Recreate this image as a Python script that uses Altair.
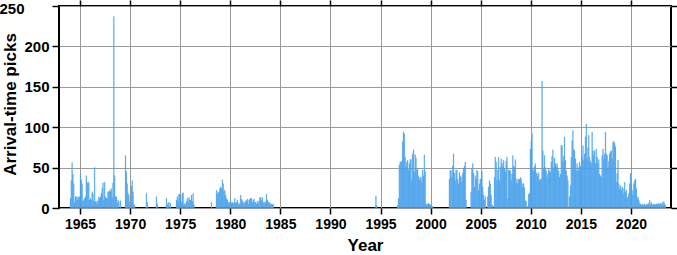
import altair as alt
import pandas as pd

# Monthly arrival-time pick counts
# Jan 1964 .. Dec 1976
counts_1964_1976 = [
    12, 34, 56, 42, 30, 7, 14, 14, 10, 14, 12, 14,      # 1964
    42, 35, 30, 10, 8, 12, 14, 40, 32, 30, 32, 10,      # 1965
    12, 10, 20, 18, 8, 50, 8, 6, 9, 8, 14, 12,          # 1966
    14, 18, 24, 31, 10, 32, 14, 12, 12, 20, 20, 22,     # 1967
    20, 24, 13, 31, 237, 40, 14, 14, 6, 10, 8, 0,       # 1968
    9, 0, 0, 0, 0, 0, 65, 45, 30, 18, 16, 8,            # 1969
    0, 27, 34, 20, 5, 3, 0, 0, 0, 0, 0, 0,              # 1970
    0, 0, 0, 0, 0, 0, 0, 18, 7, 0, 0, 0,                # 1971
    0, 0, 0, 0, 0, 0, 0, 14, 5, 0, 0, 0,                # 1972
    0, 0, 0, 0, 0, 0, 0, 12, 4, 6, 7, 0,                # 1973
    6, 0, 0, 0, 0, 0, 0, 10, 14, 8, 17, 17,             # 1974
    16, 7, 18, 19, 4, 6, 4, 8, 12, 7, 13, 10,           # 1975
    10, 16, 8, 18, 4, 0, 0, 0, 0, 0, 0, 0,              # 1976
]
# Jan 1978 .. Apr 1984
counts_1978_1984 = [
    0, 7, 0, 0, 0, 0, 0, 22, 17, 20, 19, 24,            # 1978
    26, 24, 35, 30, 20, 22, 16, 12, 10, 7, 7, 6,        # 1979
    9, 6, 7, 5, 7, 12, 6, 7, 10, 5, 6, 4,               # 1980
    16, 11, 9, 6, 7, 6, 9, 9, 11, 5, 10, 11,            # 1981
    12, 12, 7, 10, 11, 7, 7, 5, 8, 6, 9, 13,            # 1982
    13, 9, 13, 7, 6, 7, 8, 17, 10, 7, 7, 6,             # 1983
    5, 5, 4, 5,                                         # 1984
]
# Jul 1994 .. Aug 1994
counts_1994 = [15, 3]
# Sep 1996 .. Mar 2000
counts_1996_2000 = [
    3, 12, 53, 57,                                      # 1996
    57, 58, 82, 94, 92, 63, 51, 57, 59, 47, 55, 60,     # 1997
    60, 34, 67, 72, 45, 66, 62, 47, 49, 40, 35, 38,     # 1998
    38, 32, 47, 40, 66, 45, 5, 5, 4, 6, 5, 4,           # 1999
    3, 2, 2,                                            # 2000
]
# Nov 2001 .. Jun 2023
counts_2001_2023 = [
    36, 47,                                             # 2001
    46, 38, 52, 67, 43, 34, 47, 47, 36, 30, 44, 40,     # 2002
    38, 32, 43, 49, 52, 57, 10, 0, 0, 0, 0, 0,          # 2003
    20, 49, 55, 43, 26, 40, 36, 47, 45, 22, 30, 36,     # 2004
    36, 45, 26, 16, 10, 14, 0, 0, 14, 26, 34, 30,       # 2005
    16, 4, 3, 0, 38, 63, 57, 34, 47, 63, 34, 50,        # 2006
    61, 55, 51, 59, 49, 45, 58, 63, 11, 47, 47, 46,     # 2007
    34, 42, 65, 52, 50, 60, 32, 36, 30, 36, 35, 38,     # 2008
    36, 26, 30, 30, 25, 9, 8, 1, 2, 17, 18, 73,         # 2009
    83, 92, 48, 46, 52, 55, 44, 42, 39, 44, 34, 36,     # 2010
    36, 157, 71, 48, 65, 50, 46, 38, 42, 48, 46, 44,    # 2011
    57, 64, 72, 50, 62, 55, 52, 55, 48, 46, 38, 42,     # 2012
    78, 77, 57, 64, 88, 59, 46, 40, 34, 1, 14, 28,      # 2013
    63, 83, 96, 73, 71, 61, 46, 55, 50, 46, 57, 52,     # 2014
    46, 63, 77, 59, 67, 88, 104, 61, 75, 90, 63, 58,    # 2015
    55, 94, 71, 65, 71, 55, 73, 63, 55, 60, 42, 40,     # 2016
    38, 65, 73, 61, 67, 94, 67, 65, 50, 58, 67, 70,     # 2017
    71, 61, 81, 83, 80, 76, 32, 43, 59, 30, 24, 28,     # 2018
    22, 26, 24, 18, 32, 20, 22, 12, 14, 18, 30, 43,     # 2019
    30, 22, 16, 30, 34, 36, 24, 12, 14, 10, 6, 5,       # 2020
    3, 5, 4, 4, 5, 3, 4, 5, 5, 6, 10, 4,                # 2021
    7, 3, 5, 4, 5, 4, 5, 5, 6, 5, 5, 6,                 # 2022
    4, 7, 5, 8, 5, 3,                                   # 2023
]

segments = [
    (1964, 1, counts_1964_1976),
    (1978, 1, counts_1978_1984),
    (1994, 7, counts_1994),
    (1996, 9, counts_1996_2000),
    (2001, 11, counts_2001_2023),
]

year_ticks = [1965, 1970, 1975, 1980, 1985, 1990, 1995, 2000, 2005, 2010, 2015, 2020]
count_ticks = [0, 50, 100, 150, 200, 250]

rows = []
for y0, m0, vals in segments:
    for i, v in enumerate(vals):
        k = (m0 - 1) + i
        t0 = y0 + k / 12.0
        if v > 0:
            rows.append({"t0": t0, "t1": t0 + 1 / 12.0, "n": v})
df = pd.DataFrame(rows)

FONT = "Liberation Sans"
BAR = "#4aa2ec"
xscale = alt.Scale(domain=[1962.9, 2024.0], nice=False, zero=False)
yscale = alt.Scale(domain=[0, 250], nice=False)

bars = alt.Chart(df).mark_rect(color=BAR, stroke=BAR, strokeWidth=0.25).encode(
    x=alt.X("t0:Q", scale=xscale,
            axis=alt.Axis(orient="bottom", values=year_ticks, format="d",
                          title="Year", grid=True, gridColor="#9a9a9a", gridWidth=1,
                          domain=False, tickColor="black", tickSize=6, tickWidth=1.5,
                          labelFont=FONT, labelFontSize=14, labelFontWeight="bold",
                          labelColor="black", labelPadding=3,
                          titleFont=FONT, titleFontSize=17, titleFontWeight="bold",
                          titleColor="black", titleX=306, titleY=37,
                          titleBaseline="middle")),
    x2="t1:Q",
    y=alt.Y("n:Q", scale=yscale,
            axis=alt.Axis(orient="left", values=count_ticks,
                          title="Arrival-time picks", grid=True, gridColor="#9a9a9a",
                          gridWidth=1, domain=False, tickColor="black", tickSize=7,
                          tickWidth=1.5, labelFont=FONT, labelFontSize=15,
                          labelFontWeight="bold", labelColor="black",
                          labelPadding=alt.condition("datum.value == 250",
                                                     alt.value(28), alt.value(3)),
                          labelOffset=alt.condition("datum.value == 250",
                                                    alt.value(2), alt.value(0)),
                          titleFont=FONT, titleFontSize=17, titleFontWeight="bold",
                          titleColor="black", titleX=-49, titleY=98,
                          titleBaseline="middle", titleAlign="center", titleAngle=270)),
    y2=alt.datum(0),
)

frame_ticks = alt.Chart(df).mark_rect(opacity=0).encode(
    x=alt.X("t0:Q", scale=xscale,
            axis=alt.Axis(orient="top", values=year_ticks, labels=False, title="",
                          grid=False, domain=False, tickColor="black", tickSize=6,
                          tickWidth=1.5)),
    x2="t1:Q",
    y=alt.Y("n:Q", scale=yscale,
            axis=alt.Axis(orient="right", values=count_ticks, labels=False, title="",
                          grid=False, domain=False, tickColor="black", tickSize=6,
                          tickWidth=1.5)),
    y2=alt.datum(0),
)

chart = alt.layer(bars, frame_ticks).resolve_axis(
    x="independent", y="independent"
).properties(
    width=612, height=202,
    autosize=alt.AutoSizeParams(type="none"),
    padding={"left": 59, "top": 6, "right": 6, "bottom": 47},
    background="white",
).configure_view(stroke="black", strokeWidth=2)

chart.save("out.html", embed_options={"renderer": "svg", "actions": False})
